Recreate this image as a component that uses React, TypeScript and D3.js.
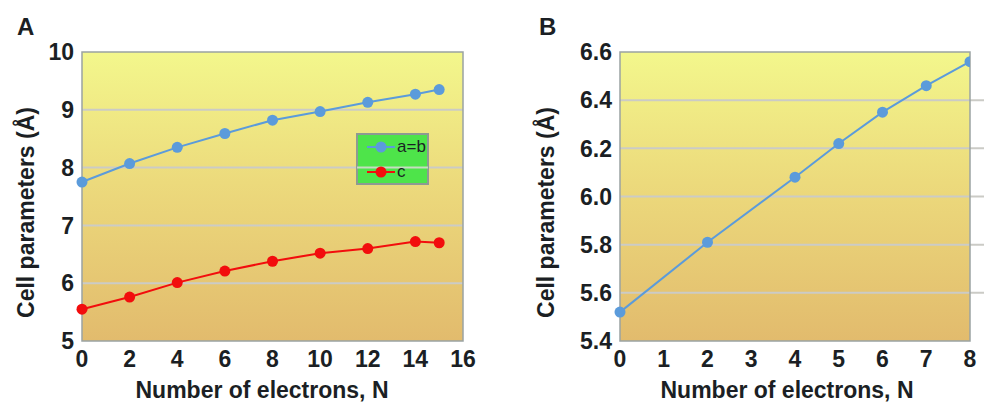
import React from "react";
import * as d3 from "d3";

// Panel A: lattice parameters vs. number of electrons
const electronsA = [0, 2, 4, 6, 8, 10, 12, 14, 15];
const aEqualsB = [7.75, 8.07, 8.35, 8.59, 8.82, 8.97, 9.13, 9.27, 9.35];
const cParam = [5.55, 5.76, 6.01, 6.21, 6.38, 6.52, 6.6, 6.72, 6.7];
const ticksXA = [0, 2, 4, 6, 8, 10, 12, 14, 16];
const ticksYA = [5, 6, 7, 8, 9, 10];

// Panel B
const electronsB = [0, 2, 4, 5, 6, 7, 8];
const paramB = [5.52, 5.81, 6.08, 6.22, 6.35, 6.46, 6.56];
const ticksXB = [0, 1, 2, 3, 4, 5, 6, 7, 8];
const ticksYB = [5.4, 5.6, 5.8, 6.0, 6.2, 6.4, 6.6];

const FONT = "'Liberation Sans', Arial, Helvetica, sans-serif";
const TXT = "#1b1f24";
const BLUE = "#5b9bdb";
const RED = "#f20d0d";
const GRID = "#cbcbc6";
const BORDER = "#9aa3a3";

const TOP = 52;
const BOTTOM = 341;

type Series = { xs: number[]; ys: number[]; color: string };

function Panel(props: {
  id: string;
  letter: string;
  letterX: number;
  left: number;
  right: number;
  xDomain: [number, number];
  yDomain: [number, number];
  xTicks: number[];
  yTicks: number[];
  yFormat: (v: number) => string;
  series: Series[];
  gridExtend: number;
  titleX: number;
  yTitleX: number;
  children?: React.ReactNode;
}) {
  const x = d3.scaleLinear().domain(props.xDomain).range([props.left, props.right]);
  const y = d3.scaleLinear().domain(props.yDomain).range([BOTTOM, TOP]);
  const line = d3
    .line<[number, number]>()
    .x((d) => x(d[0]))
    .y((d) => y(d[1]));
  const plotW = props.right - props.left;
  const innerTicks = props.yTicks.filter(
    (t) => t > props.yDomain[0] + 1e-9 && t < props.yDomain[1] - 1e-9
  );
  return (
    <g>
      <defs>
        <linearGradient id={`bg-${props.id}`} x1="0" y1="0" x2="0" y2="1">
          <stop offset="0" stopColor="#f3f78c" />
          <stop offset="0.45" stopColor="#ecda7c" />
          <stop offset="1" stopColor="#e2bb6d" />
        </linearGradient>
        {/* markers may spill past the left/top/bottom edges but are cut at the right edge */}
        <clipPath id={`clip-${props.id}`}>
          <rect x={props.left - 12} y={TOP - 12} width={plotW + 12} height={BOTTOM - TOP + 24} />
        </clipPath>
      </defs>
      <text x={props.letterX} y={35} fontSize={24} fontWeight="bold" fill={TXT} fontFamily={FONT}>
        {props.letter}
      </text>
      <rect
        x={props.left}
        y={TOP}
        width={plotW}
        height={BOTTOM - TOP}
        fill={`url(#bg-${props.id})`}
      />
      {innerTicks.map((t) => (
        <line
          key={t}
          x1={props.left}
          x2={props.right + props.gridExtend}
          y1={y(t)}
          y2={y(t)}
          stroke={GRID}
          strokeWidth={2}
        />
      ))}
      {props.children}
      <rect
        x={props.left}
        y={TOP}
        width={plotW}
        height={BOTTOM - TOP}
        fill="none"
        stroke={BORDER}
        strokeWidth={1.5}
      />
      <g clipPath={`url(#clip-${props.id})`}>
        {props.series.map((s, i) => {
          const pts = s.xs.map((v, j) => [v, s.ys[j]] as [number, number]);
          return (
            <g key={i}>
              <path d={line(pts) || ""} fill="none" stroke={s.color} strokeWidth={2} />
              {pts.map((p, j) => (
                <circle key={j} cx={x(p[0])} cy={y(p[1])} r={5.5} fill={s.color} />
              ))}
            </g>
          );
        })}
      </g>
      {props.yTicks.map((t) => (
        <text
          key={t}
          x={props.left - 8}
          y={y(t)}
          dy="0.36em"
          textAnchor="end"
          fontSize={23}
          fontWeight="bold"
          fill={TXT}
          fontFamily={FONT}
        >
          {props.yFormat(t)}
        </text>
      ))}
      {props.xTicks.map((t) => (
        <text
          key={t}
          x={x(t)}
          y={367}
          textAnchor="middle"
          fontSize={23}
          fontWeight="bold"
          fill={TXT}
          fontFamily={FONT}
        >
          {t}
        </text>
      ))}
      <text
        x={props.titleX}
        y={398}
        textAnchor="middle"
        fontSize={23}
        fontWeight="bold"
        fill={TXT}
        fontFamily={FONT}
      >
        Number of electrons, N
      </text>
      <text
        transform={`translate(${props.yTitleX},${(TOP + BOTTOM) / 2 + 16}) rotate(-90)`}
        textAnchor="middle"
        fontSize={23}
        fontWeight="bold"
        fill={TXT}
        fontFamily={FONT}
      >
        Cell parameters (Å)
      </text>
    </g>
  );
}

export default function App() {
  const yA = d3.scaleLinear().domain([5, 10]).range([BOTTOM, TOP]);
  return (
    <svg
      width={984}
      height={405}
      style={{ position: "absolute", left: 0, top: 0, background: "#ffffff" }}
    >
      <Panel
        id="a"
        letter="A"
        letterX={17}
        left={82}
        right={463}
        xDomain={[0, 16]}
        yDomain={[5, 10]}
        xTicks={ticksXA}
        yTicks={ticksYA}
        yFormat={(v) => String(v)}
        series={[
          { xs: electronsA, ys: aEqualsB, color: BLUE },
          { xs: electronsA, ys: cParam, color: RED },
        ]}
        gridExtend={0}
        titleX={262}
        yTitleX={34}
      >
        {/* legend */}
        <g>
          <rect x={357} y={134} width={71} height={50} fill="#4ee44a" stroke="#8e9a92" strokeWidth={2} />
          <line x1={357} x2={428} y1={yA(8)} y2={yA(8)} stroke="#c6dcc0" strokeWidth={2} />
          <line x1={367} x2={395} y1={147} y2={147} stroke={BLUE} strokeWidth={2} />
          <circle cx={381} cy={147} r={5.5} fill={BLUE} />
          <text x={397} y={152} fontSize={17} fill={TXT} fontFamily={FONT}>
            a=b
          </text>
          <line x1={367} x2={395} y1={172} y2={172} stroke={RED} strokeWidth={2} />
          <circle cx={381} cy={172} r={5.5} fill={RED} />
          <text x={397} y={177} fontSize={17} fill={TXT} fontFamily={FONT}>
            c
          </text>
        </g>
      </Panel>
      <Panel
        id="b"
        letter="B"
        letterX={539}
        left={620}
        right={970}
        xDomain={[0, 8]}
        yDomain={[5.4, 6.6]}
        xTicks={ticksXB}
        yTicks={ticksYB}
        yFormat={(v) => v.toFixed(1)}
        series={[{ xs: electronsB, ys: paramB, color: BLUE }]}
        gridExtend={14}
        titleX={787}
        yTitleX={554}
      />
    </svg>
  );
}
